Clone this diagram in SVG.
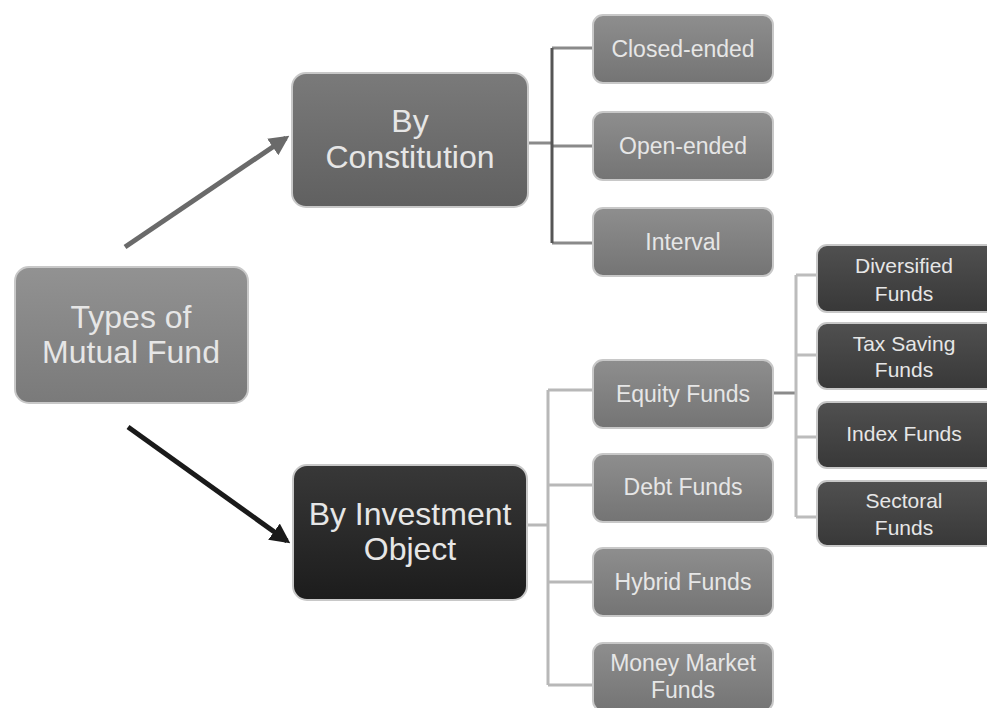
<svg xmlns="http://www.w3.org/2000/svg" width="987" height="708" viewBox="0 0 987 708">
<defs>
<linearGradient id="gRoot" x1="0" y1="0" x2="0" y2="1"><stop offset="0" stop-color="#929292"/><stop offset="1" stop-color="#7a7a7a"/></linearGradient>
<linearGradient id="gCon" x1="0" y1="0" x2="0" y2="1"><stop offset="0" stop-color="#7a7a7a"/><stop offset="1" stop-color="#606060"/></linearGradient>
<linearGradient id="gMid" x1="0" y1="0" x2="0" y2="1"><stop offset="0" stop-color="#8e8e8e"/><stop offset="1" stop-color="#747474"/></linearGradient>
<linearGradient id="gInv" x1="0" y1="0" x2="0" y2="1"><stop offset="0" stop-color="#383838"/><stop offset="1" stop-color="#1c1c1c"/></linearGradient>
<linearGradient id="gLeaf" x1="0" y1="0" x2="0" y2="1"><stop offset="0" stop-color="#505050"/><stop offset="1" stop-color="#383838"/></linearGradient>
<marker id="ahG" viewBox="0 0 10 10" refX="8" refY="5" markerWidth="4" markerHeight="4" orient="auto" markerUnits="strokeWidth"><path d="M0,0 L10,5 L0,10 z" fill="#6a6a6a"/></marker>
<marker id="ahB" viewBox="0 0 10 10" refX="8" refY="5" markerWidth="4" markerHeight="4" orient="auto" markerUnits="strokeWidth"><path d="M0,0 L10,5 L0,10 z" fill="#1a1a1a"/></marker>
</defs>
<style>
.box{stroke:#c8c8c8;stroke-width:2}
text{font-family:"Liberation Sans",Arial,sans-serif;fill:#e6e6e6;text-anchor:middle}
.big{font-size:32px}
.mid{font-size:23px}
.sm{font-size:21px}
.c{fill:none;stroke-width:3}
</style>
<rect width="987" height="708" fill="#ffffff"/>
<g id="connectors">
<line x1="125" y1="247" x2="286" y2="138" stroke="#6a6a6a" stroke-width="5" marker-end="url(#ahG)"/>
<line x1="128" y1="427" x2="287" y2="541" stroke="#1a1a1a" stroke-width="5" marker-end="url(#ahB)"/>
<path class="c" stroke="#8a8a8a" d="M528,143 H552 M552,48 H593 M552,146 H593 M552,243 H593"/>
<path class="c" stroke="#555555" d="M552,48 V243"/>
<path class="c" stroke="#b8b8b8" d="M527,525 H548 M548,390 V685 M548,390 H593 M548,485 H593 M548,582 H593 M548,685 H593"/>
<path class="c" stroke="#8a8a8a" d="M773,393 H796"/>
<path class="c" stroke="#bcbcbc" stroke-width="2" d="M796,275 V517 M796,275 H817 M796,355 H817 M796,437 H817 M796,517 H817"/>
</g>
<g id="root"><rect class="box" x="15" y="267" width="233" height="136" rx="14" fill="url(#gRoot)"/><text class="big" x="131" y="328">Types of</text><text class="big" x="131" y="363">Mutual Fund</text></g>
<g id="by-constitution"><rect class="box" x="292" y="73" width="236" height="134" rx="14" fill="url(#gCon)"/><text class="big" x="410" y="132">By</text><text class="big" x="410" y="168">Constitution</text></g>
<g id="closed-ended"><rect class="box" x="593" y="15" width="180" height="68" rx="10" fill="url(#gMid)"/><text class="mid" x="683" y="57">Closed-ended</text></g>
<g id="open-ended"><rect class="box" x="593" y="112" width="180" height="68" rx="10" fill="url(#gMid)"/><text class="mid" x="683" y="154">Open-ended</text></g>
<g id="interval"><rect class="box" x="593" y="208" width="180" height="68" rx="10" fill="url(#gMid)"/><text class="mid" x="683" y="250">Interval</text></g>
<g id="by-investment-object"><rect class="box" x="293" y="465" width="234" height="135" rx="14" fill="url(#gInv)"/><text class="big" x="410" y="525">By Investment</text><text class="big" x="410" y="560">Object</text></g>
<g id="equity-funds"><rect class="box" x="593" y="360" width="180" height="68" rx="10" fill="url(#gMid)"/><text class="mid" x="683" y="402">Equity Funds</text></g>
<g id="debt-funds"><rect class="box" x="593" y="454" width="180" height="68" rx="10" fill="url(#gMid)"/><text class="mid" x="683" y="495">Debt Funds</text></g>
<g id="hybrid-funds"><rect class="box" x="593" y="548" width="180" height="68" rx="10" fill="url(#gMid)"/><text class="mid" x="683" y="590">Hybrid Funds</text></g>
<g id="money-market-funds"><rect class="box" x="593" y="643" width="180" height="68" rx="10" fill="url(#gMid)"/><text class="mid" x="683" y="671">Money Market</text><text class="mid" x="683" y="698">Funds</text></g>
<g id="diversified-funds"><rect class="box" x="817" y="245" width="180" height="67" rx="10" fill="url(#gLeaf)"/><text class="sm" x="904" y="273">Diversified</text><text class="sm" x="904" y="301">Funds</text></g>
<g id="tax-saving-funds"><rect class="box" x="817" y="323" width="180" height="66" rx="10" fill="url(#gLeaf)"/><text class="sm" x="904" y="351">Tax Saving</text><text class="sm" x="904" y="377">Funds</text></g>
<g id="index-funds"><rect class="box" x="817" y="402" width="180" height="66" rx="10" fill="url(#gLeaf)"/><text class="sm" x="904" y="441">Index Funds</text></g>
<g id="sectoral-funds"><rect class="box" x="817" y="481" width="180" height="65" rx="10" fill="url(#gLeaf)"/><text class="sm" x="904" y="508">Sectoral</text><text class="sm" x="904" y="535">Funds</text></g>
</svg>
